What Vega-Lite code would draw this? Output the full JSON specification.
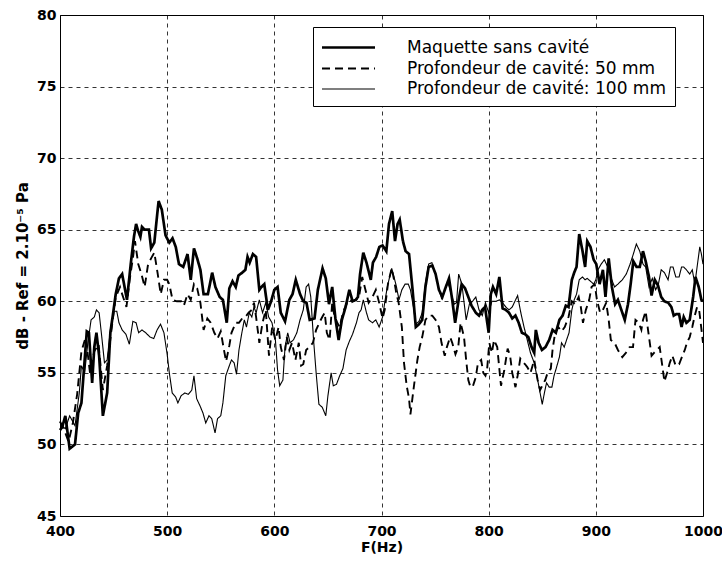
{
"$schema": "https://vega.github.io/schema/vega-lite/v6.json",
"width": 643, "height": 501,
"autosize": {"type": "none"},
"padding": {"left": 60, "top": 15, "right": 19, "bottom": 49},
"background": "white",
"config": {"view": {"stroke": "black", "strokeWidth": 1}, "font": "DejaVu Sans"},
"datasets": {
"T": [[400,51.6],[401.5,51.3],[405,51.1],[409,52],[414,51.3],[418,53.6],[420,55.5],[423,55],[426,57.1],[429,58.7],[432,58.9],[434,59.4],[436.5,59.2],[439,57.5],[441.5,55.7],[444,55.9],[447,58],[450,59.3],[453,59.3],[455,58.5],[458,58],[461.5,57.7],[464.7,57],[468,58.6],[471,58.5],[473.4,57.8],[476.5,58],[480,57.8],[484,57.5],[487.5,57.4],[490.6,58],[493.8,58.4],[497,57.8],[500,56.3],[502,55],[504.7,53.6],[508,53.3],[510,52.9],[513,53.4],[516.5,53.6],[519.7,53.5],[523,53.8],[525,54.8],[527.5,53.2],[530.6,52.7],[533.4,52.2],[536,51.5],[539,52],[541.6,51.8],[544.7,50.8],[547,51.8],[550,52],[552,52.9],[554.7,54.8],[558,55.5],[560,55.9],[562.5,55.7],[564.7,54.9],[567,56.6],[569.7,57.8],[572,58.7],[574,58.2],[576.6,59.2],[579,58.9],[581,59.6],[583,59.2],[586,60.1],[589,59.2],[592,59.9],[594.7,58.9],[597.8,58.5],[601,57.3],[603,55.2],[605,54.1],[608,54.5],[610,56.8],[612.5,57.8],[614.7,57.1],[617.8,57.3],[621,57.8],[624,58.7],[627,59.4],[629.7,61],[632,61.2],[634,60.3],[636.6,57.3],[639,55],[641.6,52.8],[644.7,52.6],[648,52],[650,53.4],[653,55],[655,54.1],[658,54.2],[661,54.8],[664,55.3],[667,56.6],[670,57.2],[673,57.7],[676.6,58.5],[679,59.2],[681,59.4],[683,60.1],[686,59.2],[688,58.7],[691.6,58.5],[694.7,58.7],[697.8,58.2],[701,58.9],[703,59.9],[705.4,61],[707.6,61.7],[709.5,62.3],[711.7,61.7],[714,61],[716.3,60.1],[719,60.8],[722,61.2],[725,61.2],[727,60.8],[730,59.5],[732,58.4],[735,58.6],[738,59.2],[741,61.3],[744,62.6],[747,62.7],[750,62],[753,61],[756,60.2],[759,60.8],[762,61.3],[765,60.5],[768,59.8],[770,59.9],[772,61.9],[775,61.2],[779,58.7],[782,59.8],[785,60],[788,60.3],[791,59.4],[794,59],[797,59.9],[800,59.2],[803,60],[807,60],[810,60.1],[813,59.9],[816,59.6],[819,59.4],[822,59.6],[827,60.4],[830,59.2],[833,58.2],[836,57.3],[839,56.4],[842.5,55.7],[845.7,54.5],[848,53.6],[850,52.8],[852,53.6],[854,54.3],[856.5,54],[859,54],[861,54.8],[863,55.3],[866,56.1],[868,57.1],[870.5,56.8],[872.7,57.3],[875,57.8],[877.6,59.4],[879.8,60.1],[882,60.5],[884.5,61.5],[887.6,61.7],[890,61.5],[892,61.6],[895,61.4],[898,61.2],[900,61.5],[902,62.2],[905,62.6],[908,62.9],[911,62.4],[914.4,61.6],[917.5,61],[920.6,61.2],[924.7,61.5],[928.4,61.9],[932,62.6],[935,63.3],[937.8,64],[941,63.5],[944,62.6],[946.5,62.4],[949.6,61],[952.7,61.6],[955.8,60.8],[958.4,61.2],[961,62.2],[964,62],[967.4,61.5],[969.6,62.4],[972,62.4],[974.6,61.7],[977.7,61.7],[980,62.4],[982,62.4],[984.5,62.2],[987.6,61.9],[990,62.2],[992.4,61.2],[994.5,62.4],[997,63.8],[998.5,63.3],[1000,62.6]],
"D": [[400,51.6],[404,51],[408,50.2],[412,51.5],[416,53.5],[420,56.5],[424,57.5],[428,55],[432,56.5],[436,57],[440,53.8],[444,55.5],[448,58],[452,60.3],[456,61],[458,60.5],[462,59.6],[465,61.5],[468,63],[470,64.2],[473,62.6],[476,61.9],[479,61],[482,62.5],[485,63],[488,63.4],[491,62],[494,60.5],[497,61.5],[500,61.5],[502,61.2],[505,60.1],[509,60],[513,60],[515.6,59.7],[519,60.5],[522,60.1],[525,61.2],[528,60.9],[531,59.9],[534,58],[537.5,58.8],[540.6,58.5],[544,57.8],[547,57.4],[550,57.9],[553,56.6],[555,55.8],[558,56.9],[560,57.8],[564,58.5],[567,58.5],[570,58.8],[573,58.9],[576,59.2],[579,59.4],[581,59.9],[583,58.9],[586,57.1],[589,58.5],[592,59.4],[595,56.2],[598,58.2],[601,57.3],[604,58.2],[606,56.8],[609,55.9],[611.6,57.5],[614,56.6],[616.5,57.1],[619.7,55.9],[622.8,57.1],[625,55.5],[627,55.6],[629.7,56.6],[632.8,56.8],[636,57.1],[639,58],[642,58.5],[644.7,58.9],[647,59.2],[649,57.8],[651.6,57.3],[654,59.9],[656,59],[658.7,58.5],[661,58.2],[664,59.2],[666.6,59.7],[669.7,60.1],[672.8,60],[676,60.1],[679,60.3],[682,61.7],[685,60.8],[688,59.9],[691.6,60.3],[694.7,60.8],[697.8,59.9],[701,58.8],[703,59.4],[706,61.2],[709.5,62.3],[711.7,61.5],[714,60.5],[716,59.9],[719,58.2],[721,55.7],[723.5,54.1],[725.7,53.2],[727,52.1],[728.8,53.2],[731,54.5],[733.5,55.9],[735.6,56.8],[738,57.5],[741,58.7],[744,59],[747.4,59],[750.5,58.7],[753.6,58.2],[756,57.1],[759,56.2],[761,56.8],[764,57.5],[766,57.1],[769,56.3],[771.6,56.8],[773.8,58.5],[777,57.5],[779,55.9],[781,54.5],[783,54],[785.4,54.1],[788,54.7],[790,55.7],[793,55.9],[795,55],[797,54.8],[798.5,55.2],[800.6,57.1],[803,56.4],[805,57.3],[808,56.8],[811.5,54.1],[814.6,55.2],[817.7,56.7],[820,56.2],[822,55],[825,54],[827,54.8],[829.5,56],[831.7,55.8],[834,55.6],[836,55.4],[839,55],[842.5,55.9],[845.7,54.5],[848,53.8],[850,54.1],[852.8,54.5],[855,55],[858,55.3],[859.6,56.6],[862,57.8],[865,58.2],[868,57.9],[871,58.2],[874.5,58.9],[877.6,60],[880.7,59.8],[884,60.3],[886,59.6],[888,58.5],[890.7,59.4],[893.8,60.1],[896,61],[899,61.2],[901,60.1],[904,59.2],[906.6,59.4],[909.7,59.9],[912,58.7],[914,57.3],[917.5,57.1],[920.6,56.6],[924.7,56.1],[928,56.4],[931.5,56.8],[934.7,56.8],[937,58.7],[940,58.5],[942.5,58],[944,58.7],[946.5,59.3],[948.7,58],[952,56.2],[954.3,56.4],[957,56.6],[959.6,56.8],[962,55.5],[964,54.4],[966.5,55],[969,55.7],[971.4,56.2],[974.5,55.5],[977.7,55.6],[980.8,56.2],[983,56.6],[985,57.1],[987.6,57.5],[990,58.2],[992,58.9],[994.5,59.6],[996.4,59.4],[998.3,58.2],[1000,57.1]],
"M": [[400,51],[402,51.2],[405,52],[409,49.7],[414,50],[417,52.2],[420,52.9],[425,57.9],[427,57.8],[430,54.3],[432,56.8],[434,57.8],[436.5,56.2],[440,52],[444,53.6],[447,57.8],[450,59.4],[452,60.5],[455,61.6],[458,61.9],[462.5,60.1],[466,62.6],[469,64.5],[471,65.4],[473,64.9],[475,64.5],[476.5,65.2],[479,65],[481,65],[483,65],[485,63.7],[488,64.1],[492,67],[495,66.4],[498.5,64.6],[502,64.1],[505,64.4],[508,63.8],[511,62.6],[515,62.4],[519,63.3],[522,61.5],[525,63.7],[528,63],[531,62.2],[534,60.5],[538,60.5],[542,62],[545,61],[549,60.3],[552,60.1],[555.6,58.5],[558,60.9],[561,61.4],[564,61],[566.5,61.8],[570,62],[573,62.2],[575,63.1],[577,62.7],[580,63.3],[583,63.1],[586,60.8],[588,61],[590.6,61.2],[594,59.4],[597,60],[600,60.8],[603,61],[606,59.2],[610,58.6],[614,60.1],[617,60.5],[620,61.5],[624,60.5],[627,60],[630,59.9],[633,58.7],[637.5,58.8],[640.6,60.8],[645,62.3],[648,61.6],[651,59.8],[654,61],[657,58.8],[660,57.3],[663,58.7],[666.5,59.6],[670,60.8],[673,60],[676,60.1],[678,60.3],[680,61.9],[683,63.4],[686,62.7],[690,61.5],[692,62.7],[695,63.1],[698,63.8],[701,63.9],[704.5,63.5],[707,65.4],[710,66.3],[712.6,64.2],[715,65.4],[717,65.7],[720,64.2],[722.5,63.5],[725.7,63.3],[729,60.8],[732,58.2],[735,58.4],[738,58.7],[741,61],[744,62.4],[747.4,62.5],[750.5,61.9],[753.6,60.8],[756.8,60.3],[760,61],[763,61.6],[766,60.1],[768.7,58.5],[772,60.1],[774.8,61.2],[778,60.9],[781,60.3],[784,59.7],[788,59.2],[791,59],[794,59.4],[796.6,59.6],[800,57.8],[802,60.5],[804,61],[807,60.5],[810,61.7],[813,59.5],[816,59.4],[819,59.2],[822,58.8],[825,59],[828,58.5],[831,57.8],[834,57.7],[837,57.5],[840,56.8],[842.5,56.4],[844,58],[846.6,57.1],[849.7,56.6],[853,56.8],[856.5,57.3],[859.6,58],[862.7,57.8],[866,58.7],[869,59],[872,59.7],[874.5,59.6],[877.6,61.5],[879.8,62],[882,62.4],[884.5,64.7],[887.6,63.5],[890,62.4],[892,64.2],[895,63.8],[898,62.9],[900.4,62.6],[903.5,61.2],[906.6,62.2],[909,60.3],[912,63],[915,61],[918,59.8],[920.6,60.1],[923.8,59.4],[927,58.7],[930,59.8],[932.5,61.2],[935,62.8],[938,62.4],[941,62.4],[944,63.5],[946.5,62.8],[949.6,61.7],[952,60.4],[955,61.5],[958,61.1],[961,60.3],[964,60],[967.5,59.9],[970.5,59.6],[972.7,59],[975,59.1],[977.7,59.1],[980,58.2],[982,58.9],[984.5,58.5],[987.6,58.7],[990.8,60.3],[993,61.7],[996,61],[998.5,60.1],[1000,60]]
},
"layer": [
  {"data": {"name": "T"}, "transform": [{"calculate": "'T'", "as": "s"}, {"calculate": "datum[0]", "as": "f"}, {"calculate": "datum[1]", "as": "db"}],
   "mark": {"type": "line", "color": "black"},
   "encoding": {
     "x": {"field": "f", "type": "quantitative", "scale": {"domain": [400, 1000], "nice": false, "zero": false},
       "axis": {"values": [400,500,600,700,800,900,1000], "format": "d", "title": "F(Hz)", "grid": true, "gridColor": "black", "gridDash": [4,4], "gridWidth": 0.8, "gridOpacity": 1, "domain": false, "ticks": false, "labelFont": "DejaVu Sans", "labelFontWeight": "bold", "labelFontSize": 14, "labelColor": "black", "labelPadding": 8, "labelFlush": false, "labelOverlap": false, "titleFont": "DejaVu Sans", "titleFontWeight": "bold", "titleFontSize": 14, "titleColor": "black", "titlePadding": 2}},
     "y": {"field": "db", "type": "quantitative", "scale": {"domain": [45, 80], "nice": false, "zero": false},
       "axis": {"values": [45,50,55,60,65,70,75,80], "format": "d", "title": "dB - Ref = 2.10⁻⁵ Pa", "grid": true, "gridColor": "black", "gridDash": [4,4], "gridWidth": 0.8, "gridOpacity": 1, "domain": false, "ticks": false, "labelFont": "DejaVu Sans", "labelFontWeight": "bold", "labelFontSize": 14, "labelColor": "black", "labelPadding": 4, "labelFlush": false, "labelOverlap": false, "titleFont": "DejaVu Sans", "titleFontWeight": "bold", "titleFontSize": 15, "titleColor": "black", "titlePadding": 6}},
     "strokeDash": {"field": "s", "type": "nominal", "scale": {"domain": ["M","D","T"], "range": [[1,0],[8,5],[1,0]]},
       "legend": {"title": null, "orient": "none", "legendX": 253, "legendY": 12, "symbolType": "M-2.65,0H2.65", "symbolSize": 400, "symbolOffset": 15, "symbolStrokeColor": "black", "labelFont": "DejaVu Sans", "labelFontSize": 17, "labelColor": "black", "labelOffset": 47, "labelLimit": 0, "padding": 9, "strokeColor": "black", "fillColor": "white", "rowPadding": 1.5, "labelExpr": "datum.label == 'M' ? 'Maquette sans cavité' : datum.label == 'D' ? 'Profondeur de cavité: 50 mm' : 'Profondeur de cavité: 100 mm'"}},
     "strokeWidth": {"field": "s", "type": "nominal", "scale": {"domain": ["M","D","T"], "range": [2.7, 1.1, 0.9]},
       "legend": {"title": null, "orient": "none", "legendX": 253, "legendY": 12, "symbolType": "M-2.65,0H2.65", "symbolSize": 400, "symbolOffset": 15, "symbolStrokeColor": "black", "labelFont": "DejaVu Sans", "labelFontSize": 17, "labelColor": "black", "labelOffset": 47, "labelLimit": 0, "padding": 9, "strokeColor": "black", "fillColor": "white", "rowPadding": 1.5, "labelExpr": "datum.label == 'M' ? 'Maquette sans cavité' : datum.label == 'D' ? 'Profondeur de cavité: 50 mm' : 'Profondeur de cavité: 100 mm'"}}
   }},
  {"data": {"name": "D"}, "transform": [{"calculate": "'D'", "as": "s"}, {"calculate": "datum[0]", "as": "f"}, {"calculate": "datum[1]", "as": "db"}],
   "mark": {"type": "line", "color": "black"},
   "encoding": {"x": {"field": "f", "type": "quantitative"}, "y": {"field": "db", "type": "quantitative"}, "strokeDash": {"field": "s", "type": "nominal"}, "strokeWidth": {"field": "s", "type": "nominal"}}},
  {"data": {"name": "M"}, "transform": [{"calculate": "'M'", "as": "s"}, {"calculate": "datum[0]", "as": "f"}, {"calculate": "datum[1]", "as": "db"}],
   "mark": {"type": "line", "color": "black"},
   "encoding": {"x": {"field": "f", "type": "quantitative"}, "y": {"field": "db", "type": "quantitative"}, "strokeDash": {"field": "s", "type": "nominal"}, "strokeWidth": {"field": "s", "type": "nominal"}}}
]
}
